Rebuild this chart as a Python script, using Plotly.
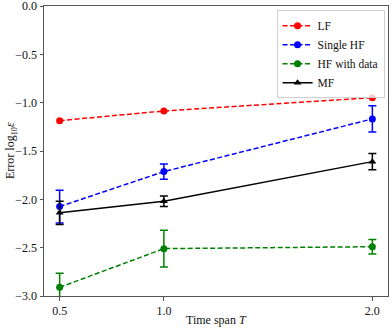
import plotly.graph_objects as go

T = [0.5, 1.0, 2.0]
lf = [-1.186, -1.086, -0.948]
single_hf = [-2.075, -1.713, -1.168]
single_hf_err = [0.17, 0.078, 0.135]
hf_data = [-2.91, -2.51, -2.49]
hf_data_err = [0.145, 0.19, 0.075]
mf = [-2.14, -2.02, -1.61]
mf_err = [0.12, 0.055, 0.085]

FONT = "Liberation Serif"
dash = "5px,2.5px"

fig = go.Figure()
fig.add_trace(go.Scatter(x=T, y=lf, name="LF", mode="lines+markers",
                         line=dict(color="#ff0000", width=1.5, dash=dash),
                         marker=dict(symbol="circle", size=7, color="#ff0000")))
fig.add_trace(go.Scatter(x=T, y=single_hf, name="Single HF", mode="lines+markers",
                         line=dict(color="#0000ff", width=1.5, dash=dash),
                         marker=dict(symbol="circle", size=7, color="#0000ff"),
                         error_y=dict(type="data", array=single_hf_err, color="#0000ff",
                                      thickness=1.5, width=4)))
fig.add_trace(go.Scatter(x=T, y=hf_data, name="HF with data", mode="lines+markers",
                         line=dict(color="#008000", width=1.5, dash=dash),
                         marker=dict(symbol="circle", size=7, color="#008000"),
                         error_y=dict(type="data", array=hf_data_err, color="#008000",
                                      thickness=1.5, width=4)))
fig.add_trace(go.Scatter(x=T, y=mf, name="MF", mode="lines+markers",
                         line=dict(color="#000000", width=1.5),
                         marker=dict(symbol="triangle-up", size=7, color="#000000"),
                         error_y=dict(type="data", array=mf_err, color="#000000",
                                      thickness=1.5, width=4)))

fig.update_layout(
    width=392, height=328,
    margin=dict(l=44, r=4, t=6, b=32, autoexpand=False),
    paper_bgcolor="white", plot_bgcolor="white",
    font=dict(family=FONT, size=12, color="#111"),
    showlegend=True,
    legend=dict(x=0.99, y=0.985, xanchor="right", yanchor="top",
                bgcolor="rgba(255,255,255,0.8)", bordercolor="#d0d0d0", borderwidth=1,
                font=dict(family=FONT, size=11.5), tracegroupgap=0, itemwidth=30),
    annotations=[
        dict(text="Time span <i>T</i>", x=0.5, y=0, xref="paper", yref="paper",
             xanchor="center", yanchor="top", yshift=-15, showarrow=False,
             font=dict(family=FONT, size=12)),
        dict(text="Error log<sub>10</sub><i>ε</i>", x=0, y=0.5, xref="paper", yref="paper",
             xanchor="center", yanchor="middle", xshift=-33, textangle=-90, showarrow=False,
             font=dict(family=FONT, size=12)),
    ],
)
fig.update_xaxes(range=[0.425, 2.075], tickvals=T, ticktext=["0.5", "1.0", "2.0"],
                 automargin=False, ticklabeloverflow="allow",
                 showgrid=False, zeroline=False, showline=True, linecolor="#555",
                 linewidth=1, mirror=True, ticks="outside", ticklen=3.5, tickcolor="#555")
fig.update_yaxes(range=[-3.0, 0.0], tickvals=[0, -0.5, -1.0, -1.5, -2.0, -2.5, -3.0],
                 tickformat=".1f", automargin=False, ticklabeloverflow="allow",
                 showgrid=False, zeroline=False, showline=True, linecolor="#555",
                 linewidth=1, mirror=True, ticks="outside", ticklen=3.5, tickcolor="#555")

fig.write_html("out.html", config={"displayModeBar": False},
               post_script="document.body.style.margin='0';document.body.style.padding='0';")
